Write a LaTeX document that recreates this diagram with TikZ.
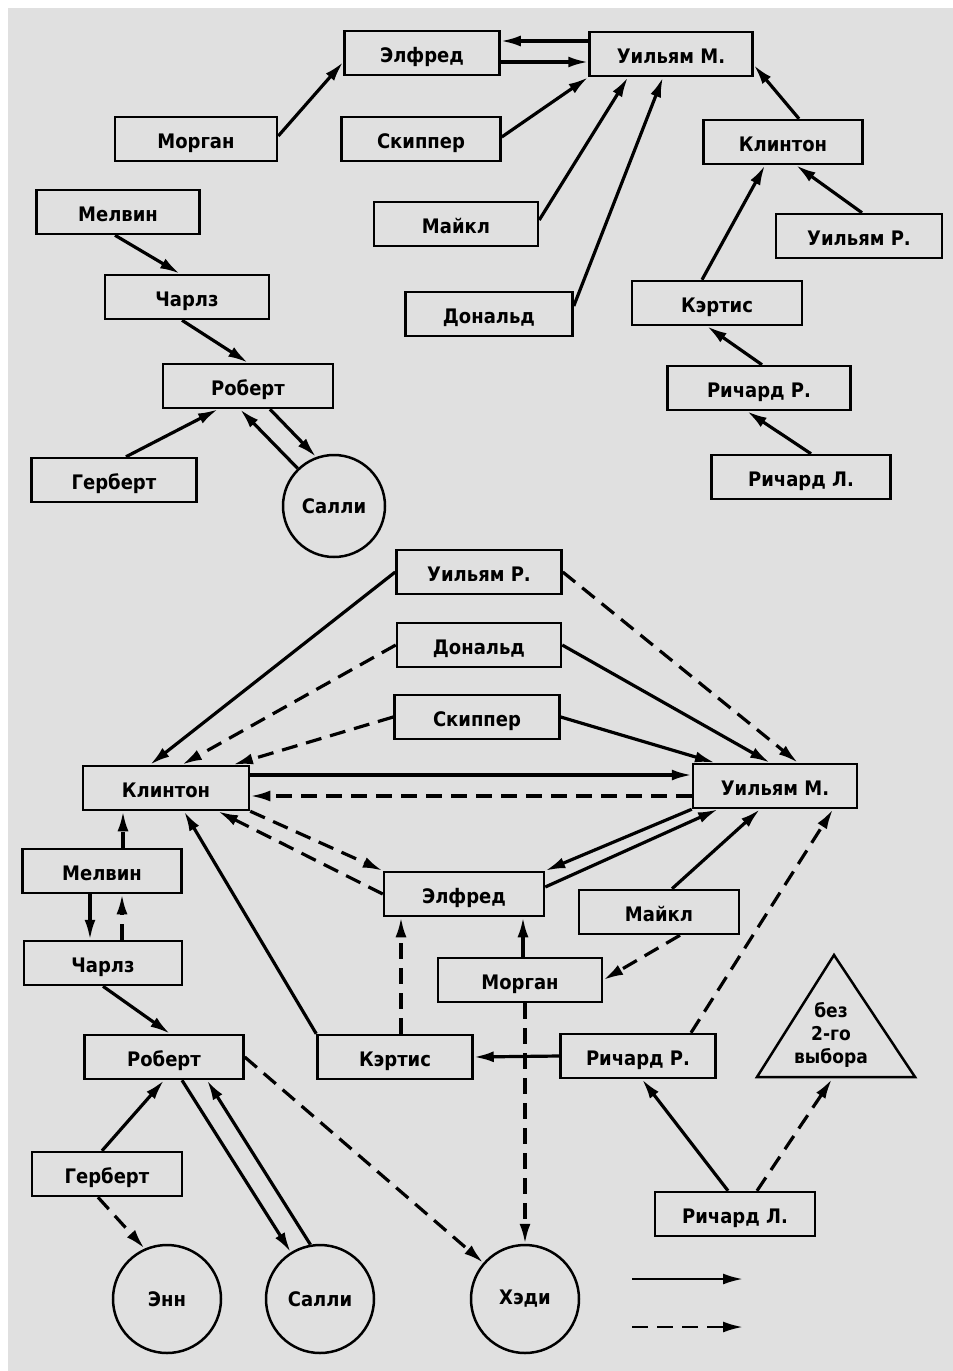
\documentclass[tikz,border=0pt]{standalone}
\usepackage{fontspec}
\setmainfont{DejaVu Sans Condensed}
\usetikzlibrary{arrows.meta}

\definecolor{paper}{gray}{0.88}
\tikzset{
    box/.style={draw, line width=2.5pt, minimum height=44pt, inner sep=0pt,
        text height=20pt, text depth=2pt,
        font=\bfseries\fontsize{20}{20}\selectfont},
    girl/.style={draw, circle, line width=2.5pt, inner sep=0pt,
        font=\bfseries\fontsize{20}{20}\selectfont},
    sel1/.style={line width=3.2pt, -{Latex[length=20pt,width=11pt]}},
    sel2/.style={sel1, dash pattern=on 16pt off 9pt},
}

\begin{document}
\begin{tikzpicture}[x=1pt,y=-1pt]
    \useasboundingbox (0,0) rectangle (953,1371);
    \fill[white] (0,0) rectangle (953,1371);
    \fill[paper] (8,8) rectangle (953,1371);

    % upper graph
    \foreach \n/\x/\y/\w/\t in {tElf/422/53/155/Элфред, tWM/671/54/163/Уильям М.,
        tMor/196/139/162/Морган, tSki/421/139/159/Скиппер, tCli/783/142/159/Клинтон,
        tMel/118/212/163/Мелвин, tMai/456/224/164/Майкл, tWR/859/236/166/Уильям Р.,
        tCha/187/297/164/Чарлз, tCur/717/303/170/Кэртис, tDon/489/314/167/Дональд,
        tRob/248/386/170/Роберт, tRR/759/388/183/Ричард Р., tHer/114/480/165/Герберт,
        tRL/801/477/179/Ричард Л.}
        {\node[box, minimum width=\w pt] (\n) at (\x,\y) {\t};}
    \node[girl, minimum size=102pt] (tSal) at (334,506) {Салли};

    \draw[sel1] ([yshift=3pt]tMor.east) -- ([yshift=-9pt]tElf.west);
    \draw[sel1] ([yshift=13pt]tWM.west) -- ([yshift=12pt]tElf.east);
    \draw[sel1] ([yshift=-9pt]tElf.east) -- ([yshift=-8pt]tWM.west);
    \draw[sel1] ([yshift=2pt]tSki.east) -- (tWM.south west);
    \draw[sel1] ([yshift=4pt]tMai.east) -- ([xshift=-43pt]tWM.south);
    \draw[sel1] ([yshift=8pt]tDon.east) -- ([xshift=-8pt]tWM.south);
    \draw[sel1] ([xshift=16pt]tCli.north) -- ([yshift=-11pt]tWM.east);
    \draw[sel1] ([xshift=3pt]tWR.north) -- ([xshift=13pt]tCli.south);
    \draw[sel1] ([xshift=-15pt]tCur.north) -- ([xshift=-18pt]tCli.south);
    \draw[sel1] ([xshift=3pt]tRR.north) -- ([xshift=-10pt]tCur.south);
    \draw[sel1] ([xshift=10pt]tRL.north) -- ([xshift=-12pt]tRR.south);
    \draw[sel1] ([xshift=-3pt]tMel.south) -- ([xshift=-7pt]tCha.north);
    \draw[sel1] ([xshift=-5pt]tCha.south) -- (tRob.north);
    \draw[sel1] ([xshift=12pt]tHer.north) -- ([xshift=-30pt]tRob.south);
    \draw[sel1] (tSal.134) -- ([xshift=-8pt]tRob.south);
    \draw[sel1] ([xshift=22pt]tRob.south) -- (tSal.110);

    % lower graph
    \foreach \n/\x/\y/\w/\t in {WR/479/572/165/Уильям Р., Don/479/645/164/Дональд,
        Ski/477/717/165/Скиппер, Cli/166/788/166/Клинтон, WM/775/786/164/Уильям М.,
        Mel/102/871/159/Мелвин, Elf/464/894/160/Элфред, Mai/659/912/160/Майкл,
        Cha/103/963/158/Чарлз, Mor/520/980/164/Морган, Rob/164/1057/159/Роберт,
        Cur/395/1057/155/Кэртис, RR/638/1056/155/Ричард Р., Her/107/1174/150/Герберт,
        RL/735/1214/160/Ричард Л.}
        {\node[box, minimum width=\w pt] (\n) at (\x,\y) {\t};}
    \foreach \n/\x/\t in {Ann/167/Энн, Sal/320/Салли, Had/525/Хэди}
        {\node[girl, minimum size=108pt] (\n) at (\x,1299) {\t};}
    \draw[line width=2.5pt, line join=miter] (834,955) -- (915,1077) -- (757,1077) -- cycle;
    \node[align=center, font=\bfseries\fontsize{19}{23}\selectfont] (none) at (831,1035)
        {без\\2-го\\выбора};
    \coordinate (tribase) at (832,1079);

    \draw[sel1] (WR.west) -- ([xshift=-16pt]Cli.north);
    \draw[sel2] (Don.west) -- ([xshift=16pt]Cli.north);
    \draw[sel2] (Ski.west) -- ([xshift=67pt]Cli.north);
    \draw[sel2] (WR.east) -- ([xshift=23pt]WM.north);
    \draw[sel1] (Don.east) -- ([xshift=-5pt]WM.north);
    \draw[sel1] (Ski.east) -- ([xshift=-60pt]WM.north);
    \draw[sel1] ([yshift=13pt]Cli.east) -- ([yshift=11pt]WM.west);
    \draw[sel2] ([yshift=-10pt]WM.west) -- ([yshift=-8pt]Cli.east);
    \draw[sel2] (Cli.south east) -- (Elf.north west);
    \draw[sel2] (Elf.west) -- ([xshift=52pt]Cli.south);
    \draw[sel1] (WM.south west) -- (Elf.north east);
    \draw[sel1] ([yshift=7pt]Elf.east) -- ([xshift=-57pt]WM.south);
    \draw[sel1] ([xshift=13pt]Mai.north) -- ([xshift=-15pt]WM.south);
    \draw[sel2] ([xshift=53pt]RR.north) -- ([xshift=58pt]WM.south);
    \draw[sel2] ([xshift=21pt]Mai.south) -- (Mor.east);
    \draw[sel1] ([xshift=3pt]Mor.north) -- ([xshift=59pt]Elf.south);
    \draw[sel2] ([xshift=6pt]Cur.north) -- ([xshift=-63pt]Elf.south);
    \draw[sel1] (Cur.north west) -- ([xshift=18pt]Cli.south);
    \draw[sel1] (RR.west) -- (Cur.east);
    \draw[sel2] ([xshift=5pt]Mor.south) -- (Had.north);
    \draw[sel2] (Rob.east) -- (Had.139);
    \draw[sel1] ([xshift=-7pt]RL.north) -- ([xshift=4pt]RR.south);
    \draw[sel2] ([xshift=22pt]RL.north) -- (tribase);
    \draw[sel2] ([xshift=21pt]Mel.north) -- ([xshift=-43pt]Cli.south);
    \draw[sel1] ([xshift=-12pt]Mel.south) -- ([xshift=-13pt]Cha.north);
    \draw[sel2] ([xshift=19pt]Cha.north) -- ([xshift=20pt]Mel.south);
    \draw[sel1] (Cha.south) -- ([xshift=6pt]Rob.north);
    \draw[sel1] ([xshift=-5pt]Her.north) -- (Rob.south);
    \draw[sel2] ([xshift=-9pt]Her.south) -- (Ann.114);
    \draw[sel1] ([xshift=18pt]Rob.south) -- (Sal.122);
    \draw[sel1] (Sal.100) -- ([xshift=43pt]Rob.south);

    % legend
    \coordinate (solA) at (632,1279);
    \coordinate (solB) at (743,1279);
    \coordinate (dshA) at (632,1327);
    \coordinate (dshB) at (743,1327);
    \draw[sel1, line width=2.6pt] (solA) -- (solB);
    \draw[sel2, line width=2.6pt] (dshA) -- (dshB);
\end{tikzpicture}
\end{document}
